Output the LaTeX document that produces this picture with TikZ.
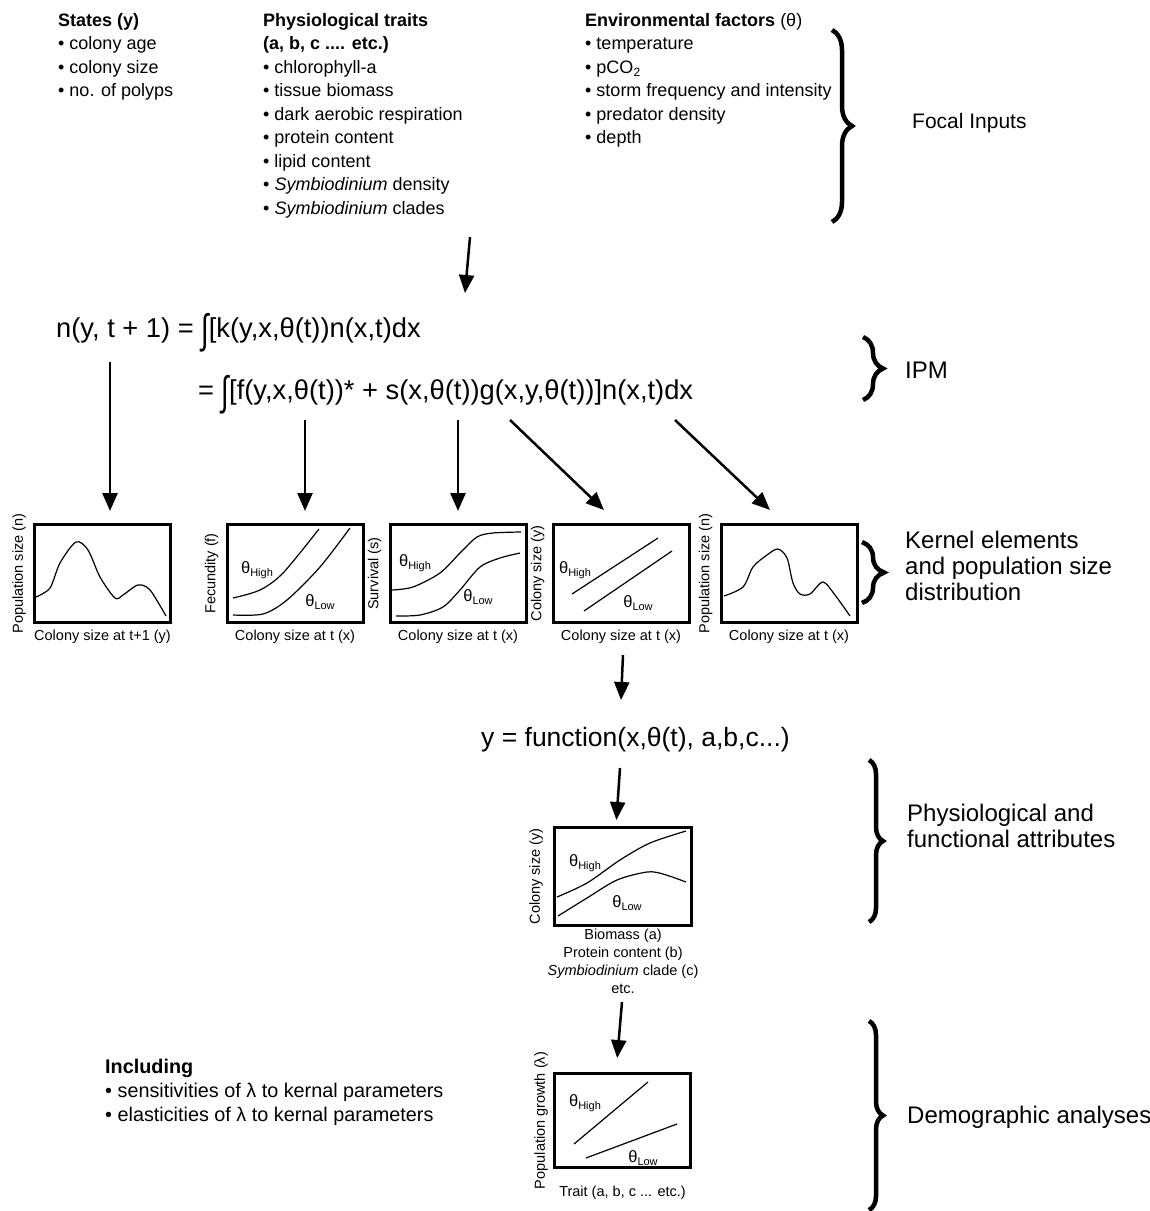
\documentclass[tikz,border=0pt]{standalone}
\usepackage{fontspec}
\setmainfont{Liberation Sans}
\usepackage{graphicx}
\usetikzlibrary{arrows.meta,decorations.pathreplacing,positioning}
\newcommand{\subtxt}[2]{\raisebox{-.35ex}{\fontsize{#1}{#1}\selectfont #2}}
\newcommand{\thH}{θ\subtxt{11}{High}}
\newcommand{\thL}{θ\subtxt{11}{Low}}
\newcommand{\bigint}{\raisebox{-.22em}{\scalebox{1}[1.5]{∫}}}
\begin{document}
\begin{tikzpicture}[x=1pt,y=-1pt,
  list/.style={anchor=north west,inner sep=0pt,align=left,font=\fontsize{18}{23.5}\selectfont},
  eqn/.style={anchor=west,inner sep=0pt,font=\fontsize{27.3}{30}\selectfont},
  lbl/.style={anchor=west,inner sep=0pt,align=left,font=\fontsize{24}{26}\selectfont},
  plotbox/.style={draw,line width=3pt,minimum width=136pt,minimum height=98pt,inner sep=0pt},
  axlbl/.style={inner sep=0pt,align=center,font=\fontsize{14.5}{18}\selectfont},
  th/.style={inner sep=0pt,font=\fontsize{16.5}{16.5}\selectfont},
  crv/.style={line width=1.2pt},
  arr/.style={line width=2.5pt,-{Triangle[length=18pt,width=15pt]}},
  brc/.style={decorate,line width=4.5pt,decoration={brace,amplitude=#1}}]
\useasboundingbox (0,0) rectangle (1150,1211);
% focal inputs
\node[list] (states) at (58,13) {\textbf{States (y)}\\• colony age\\• colony size\\• no. of polyps};
\node[list] (traits) at (263,13) {\textbf{Physiological traits}\\\textbf{(a, b, c .... etc.)}\\• chlorophyll-a\\• tissue biomass\\• dark aerobic respiration\\• protein content\\• lipid content\\• \textit{Symbiodinium} density\\• \textit{Symbiodinium} clades};
\node[list] (env) at (585,13) {\textbf{Environmental factors} (θ)\\• temperature\\• pCO\subtxt{12}{2}\\• storm frequency and intensity\\• predator density\\• depth};
\draw[brc=20] (832,30) -- (832,222);
\node[lbl,font=\fontsize{21}{24}\selectfont] (focal) at (912,123) {Focal Inputs};
% IPM
\coordinate (intop) at (470,237);
\coordinate (inbot) at (465,293);
\draw[arr] (intop) -- (inbot);
\node[eqn] (eqone) at (56,333) {n(y, t + 1) = \bigint[k(y,x,θ(t))n(x,t)dx};
\node[eqn] (eqtwo) at (198,395) {= \bigint[f(y,x,θ(t))* + s(x,θ(t))g(x,y,θ(t))]n(x,t)dx};
\draw[brc=20] (863,337) -- (863,400);
\node[lbl] (ipm) at (905,370) {IPM};
% kernel elements
\foreach \nm/\cx/\yl/\xl in {kpop/102.5/Population size (n)/Colony size at t+1 (y),
  kfec/295/Fecundity (f)/Colony size at t (x), ksurv/458/Survival (s)/Colony size at t (x),
  kgrow/621/Colony size (y)/Colony size at t (x), kdist/789/Population size (n)/Colony size at t (x)}{
  \node[plotbox] (\nm) at (\cx,573.5) {};
  \node[axlbl,rotate=90,anchor=south] (\nm-y) at ([xshift=-7pt]\nm.west) {\yl};
  \node[axlbl,anchor=north] (\nm-x) at ([yshift=-6pt]\nm.south) {\xl};
}
\coordinate (nsrc) at (110,362);
\coordinate (fsrc) at (305,420);
\coordinate (ssrc) at (458,420);
\coordinate (gsrc) at (510,420);
\coordinate (gtip) at (604,510);
\coordinate (dsrc) at (675,420);
\coordinate (dtip) at (770,510);
\draw[arr,shorten >=12pt] (nsrc) -- (nsrc |- kpop.north);
\draw[arr,shorten >=12pt] (fsrc) -- (fsrc |- kfec.north);
\draw[arr,shorten >=12pt] (ssrc) -- (ssrc |- ksurv.north);
\draw[arr] (gsrc) -- (gtip);
\draw[arr] (dsrc) -- (dtip);
\draw[crv] plot[smooth] coordinates {(36,597) (50,588) (60,563) (76,542) (88,550) (100,577) (115,598) (123,595) (138,585) (150,590) (166,616)};
\draw[crv] plot[smooth] coordinates {(233,598) (260,590) (283,573) (319,529)};
\draw[crv] plot[smooth] coordinates {(233,615) (263,614) (287,600) (320,567) (350,528)};
\node[th] (fh) at (257,570) {\thH};
\node[th] (fl) at (320,602) {\thL};
\draw[crv] plot[smooth] coordinates {(392,590) (413,587) (440,573) (460,553) (477,537) (493,533) (521,532)};
\draw[crv] plot[smooth] coordinates {(396,616) (420,615) (443,607) (460,590) (480,567) (500,558) (520,553)};
\node[th] (sh) at (415,563) {\thH};
\node[th] (sl) at (478,597) {\thL};
\draw[crv] (572,594) -- (658,538);
\draw[crv] (584,611) -- (672,551);
\node[th] (gh) at (575,570) {\thH};
\node[th] (gl) at (638,603) {\thL};
\draw[crv] plot[smooth] coordinates {(724,596) (743,587) (753,567) (767,555) (778,549) (787,558) (793,583) (800,594) (810,594) (823,582) (835,595) (850,616)};
\draw[brc=22] (862,542) -- (862,603);
\node[lbl] (kernel) at (905,566) {Kernel elements\\and population size\\distribution};
% physiological and functional attributes
\coordinate (gout) at (623,655);
\coordinate (fnin) at (621,700);
\draw[arr] (gout) -- (fnin);
\node[eqn,font=\fontsize{26.5}{30}\selectfont] (fnc) at (481,740) {y = function(x,θ(t), a,b,c...)};
\node[plotbox,minimum width=137pt] (aplot) at (623,876.5) {};
\coordinate (fnout) at (620,768);
\draw[arr,shorten >=6pt] (fnout) -- (aplot.north -| 616,0);
\node[axlbl,rotate=90,anchor=south] (aplot-y) at ([xshift=-10pt]aplot.west) {Colony size (y)};
\node[axlbl,anchor=north] (aplot-x) at ([yshift=-2pt]aplot.south) {Biomass (a)\\Protein content (b)\\\textit{Symbiodinium} clade (c)\\etc.};
\draw[crv] plot[smooth] coordinates {(557,897) (587,883) (620,860) (650,843) (686,831)};
\draw[crv] plot[smooth] coordinates {(558,916) (587,898) (617,880) (647,872) (663,874) (686,882)};
\node[th] (ah) at (585,863) {\thH};
\node[th] (al) at (627,903) {\thL};
\draw[brc=14] (869,760) -- (869,922);
\node[lbl] (attr) at (907,826) {Physiological and\\functional attributes};
% demographic analyses
\node[plotbox,minimum height=94pt] (lplot) at (622.5,1120.5) {};
\coordinate (aout) at (622,1002);
\draw[arr,shorten >=14pt] (aout) -- (lplot.north -| 616,0);
\node[axlbl,rotate=90,anchor=south] (lplot-y) at ([xshift=-5pt]lplot.west) {Population growth (λ)};
\node[axlbl,anchor=north] (lplot-x) at ([yshift=-17pt]lplot.south) {Trait (a, b, c ... etc.)};
\draw[crv] (574,1144) -- (648,1082);
\draw[crv] (586,1158) -- (677,1124);
\node[th] (lh) at (585,1103) {\thH};
\node[th] (ll) at (643,1158) {\thL};
\node[list,font=\fontsize{19.8}{24}\selectfont] (incl) at (105,1059) {\textbf{Including}\\• sensitivities of λ to kernal parameters\\• elasticities of λ to kernal parameters};
\draw[brc=14] (869,1021) -- (869,1210);
\node[lbl] (demog) at (907,1117) {Demographic analyses};
\end{tikzpicture}
\end{document}
